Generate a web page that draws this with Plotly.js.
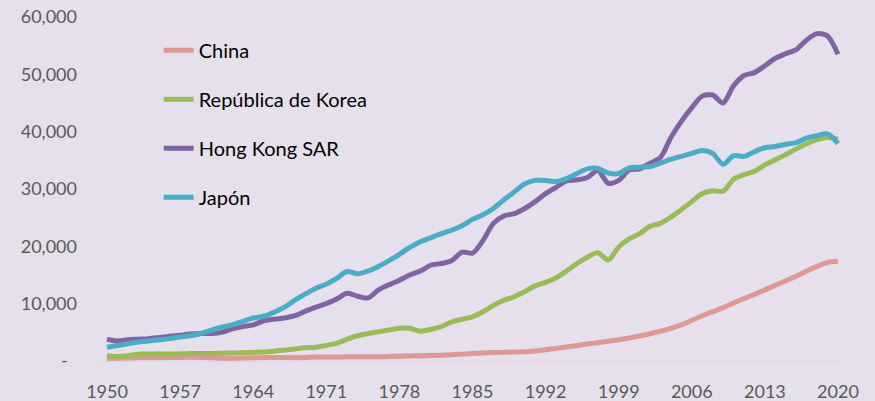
<!DOCTYPE html>
<html>
<head>
<meta charset="utf-8">
<script src="https://cdn.plot.ly/plotly-3.0.1.min.js"></script>
<style>
  html, body { margin: 0; padding: 0; background: #E5E0EC; }
  #chart { width: 875px; height: 401px; }
</style>
</head>
<body>
<div id="chart"></div>
<script>
const years = [];
for (let y = 1950; y <= 2020; y++) years.push(y);

const seriesNames = ["China", "República de Korea", "Hong Kong SAR", "Japón"];

const china = [
  450, 480, 520, 550, 560, 570, 600, 610, 640, 620,
  580, 480, 480, 520, 560, 600, 620, 600, 580, 620,
  680, 700, 700, 720, 730, 750, 740, 780, 840, 880,
  920, 950, 1000, 1080, 1200, 1320, 1380, 1470, 1540, 1560,
  1600, 1750, 1950, 2200, 2450, 2700, 2950, 3200, 3450, 3700,
  4000, 4350, 4750, 5200, 5700, 6300, 7100, 7900, 8600, 9300,
  10100, 10900, 11600, 12400, 13200, 14000, 14800, 15700, 16500, 17200,
  17400
];

const korea = [
  900, 800, 900, 1200, 1200, 1250, 1200, 1250, 1300, 1300,
  1300, 1350, 1400, 1450, 1500, 1550, 1700, 1900, 2100, 2300,
  2400, 2700, 3100, 3800, 4400, 4800, 5100, 5400, 5700, 5700,
  5200, 5500, 6000, 6800, 7300, 7700, 8600, 9700, 10600, 11200,
  12100, 13100, 13700, 14500, 15700, 17000, 18100, 18900, 17600, 19900,
  21300, 22200, 23500, 24000, 25100, 26400, 27800, 29200, 29700, 29600,
  31700, 32500, 33100, 34200, 35100, 36000, 37000, 37900, 38600, 39000,
  38700
];

const hongkong = [
  3800, 3500, 3700, 3800, 3900, 4100, 4300, 4500, 4700, 4800,
  4800, 5000, 5600, 6000, 6300, 7000, 7300, 7500, 7900, 8700,
  9400, 10000, 10800, 11800, 11300, 11000, 12400, 13300, 14100, 15000,
  15700, 16700, 17000, 17500, 19000, 18800, 21000, 24000, 25300, 25700,
  26600, 27800, 29200, 30300, 31400, 31600, 32000, 33200, 31000, 31500,
  33300, 33500, 34500, 35500, 39000, 41800, 44200, 46200, 46400, 45000,
  48000, 49800, 50300, 51500, 52800, 53600, 54300, 56000, 57100, 56700,
  53500
];

const japan = [
  2400, 2700, 3000, 3300, 3500, 3700, 3900, 4200, 4400, 4800,
  5400, 5900, 6300, 6900, 7500, 7800, 8500, 9400, 10600, 11700,
  12700, 13400, 14400, 15600, 15200, 15700, 16500, 17500, 18600, 19800,
  20800, 21500, 22200, 22800, 23600, 24700, 25500, 26600, 28100, 29500,
  30900, 31500, 31500, 31300, 31800, 32700, 33500, 33600, 32800, 32700,
  33700, 33800, 33900, 34500, 35200, 35700, 36200, 36700, 36200, 34300,
  35800, 35700, 36500, 37200, 37400, 37800, 38100, 38900, 39300, 39600,
  37900
];

const xTickVals = [1950, 1957, 1964, 1971, 1978, 1985, 1992, 1999, 2006, 2013, 2020];
const yTickVals = [0, 10000, 20000, 30000, 40000, 50000, 60000];
const yTickText = ["-\u00a0\u00a0", "10,000", "20,000", "30,000", "40,000", "50,000", "60,000"];

const colors = ["#DE9896", "#9BBB59", "#8064A2", "#4BACC6"];
const values = [china, korea, hongkong, japan];

const traces = values.map((v, i) => ({
  type: "scatter",
  mode: "lines",
  x: years,
  y: v,
  name: seriesNames[i],
  legendgroup: "g" + i,
  line: { color: colors[i], width: 5, shape: "spline", smoothing: 0.8 },
  hoverinfo: "skip"
}));

const font = "Lato, 'Open Sans', 'Liberation Sans', sans-serif";

const layout = {
  width: 875,
  height: 401,
  margin: { l: 100, r: 32, t: 17, b: 40 },
  paper_bgcolor: "#E5E0EC",
  plot_bgcolor: "#E5E0EC",
  font: { family: font, size: 18, color: "#595959" },
  showlegend: true,
  legend: {
    x: 0.079, y: 0.96, xanchor: "left", yanchor: "top",
    bgcolor: "rgba(0,0,0,0)",
    font: { family: font, size: 20, color: "#000000" },
    traceorder: "grouped",
    tracegroupgap: 20
  },
  xaxis: {
    range: [1949.33, 2020.48],
    tickmode: "array",
    tickvals: xTickVals,
    ticktext: xTickVals.map(String),
    showgrid: false,
    zeroline: false,
    showline: true,
    linecolor: "#D9D9D9",
    linewidth: 1,
    ticks: "",
    ticklabelstandoff: 14,
    tickfont: { family: font, size: 18, color: "#595959" }
  },
  yaxis: {
    range: [0, 60000],
    tickmode: "array",
    tickvals: yTickVals,
    ticktext: yTickText,
    showgrid: false,
    zeroline: false,
    showline: false,
    ticks: "",
    ticklabelstandoff: 22,
    tickfont: { family: font, size: 18, color: "#595959" }
  },
  hovermode: false
};

Plotly.newPlot("chart", traces, layout, { displayModeBar: false, staticPlot: true });
</script>
</body>
</html>
